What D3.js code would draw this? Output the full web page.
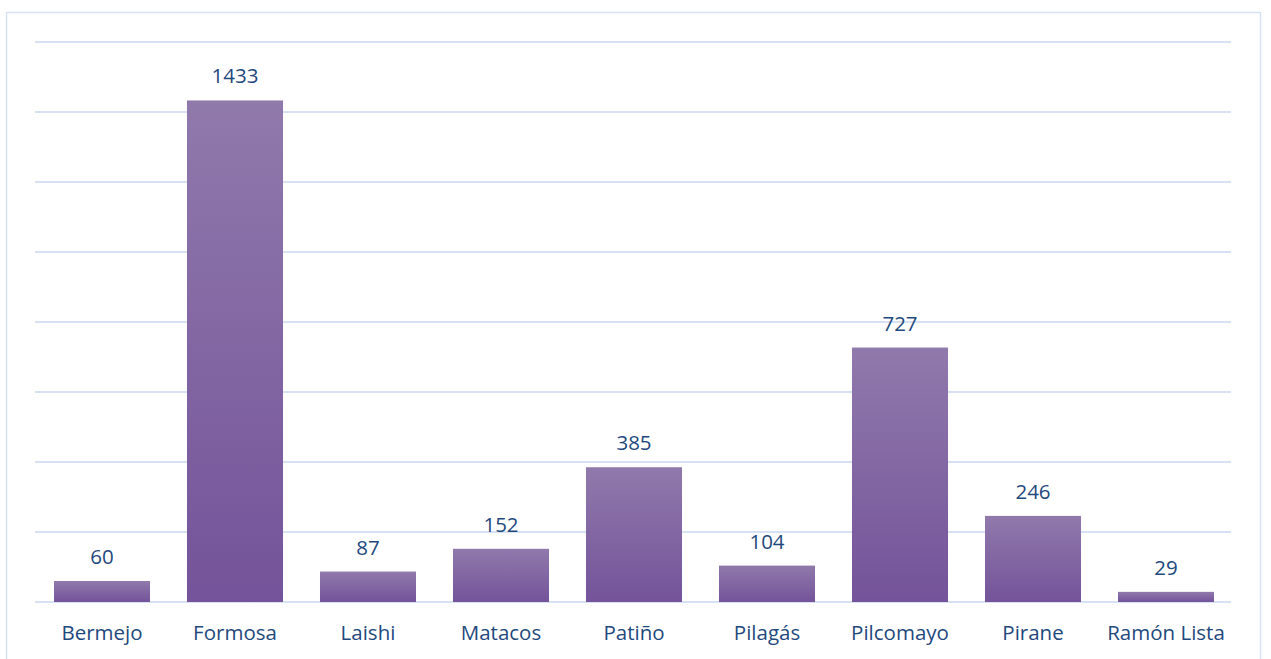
<!DOCTYPE html>
<html>
<head>
<meta charset="utf-8">
<script src="https://cdn.jsdelivr.net/npm/d3@7"></script>
<style>
  body { margin: 0; background: #fff; }
  svg { display: block; }
</style>
</head>
<body>
<div id="chart"></div>
<script>
const categories = ['Bermejo', 'Formosa', 'Laishi', 'Matacos', 'Patiño', 'Pilagás', 'Pilcomayo', 'Pirane', 'Ramón Lista'];
const values = [60, 1433, 87, 152, 385, 104, 727, 246, 29];
const gridTicks = [0, 200, 400, 600, 800, 1000, 1200, 1400, 1600];

const width = 1271;
const height = 659;
const textColor = '#1f497d';
const gridColor = '#d6e2f3';

const svg = d3.select('#chart').append('svg')
    .attr('width', width)
    .attr('height', height);

// gradient for bars
const grad = svg.append('defs').append('linearGradient')
    .attr('id', 'barGrad')
    .attr('x1', 0).attr('y1', 0)
    .attr('x2', 0).attr('y2', 1);
grad.append('stop').attr('offset', '0%').attr('stop-color', '#9079ab');
grad.append('stop').attr('offset', '100%').attr('stop-color', '#74539a');

// chart border
svg.append('rect')
    .attr('x', 6.5)
    .attr('y', 12.5)
    .attr('width', 1254)
    .attr('height', 670)
    .attr('fill', 'none')
    .attr('stroke', gridColor)
    .attr('stroke-width', 1.5);

const x = d3.scaleBand()
    .domain(categories)
    .range([35.5, 1232.5])
    .paddingInner(0.278)
    .paddingOuter(0.139);

const y = d3.scaleLinear()
    .domain([0, 1600])
    .range([602, 42]);

// gridlines
svg.append('g')
    .selectAll('line')
    .data(gridTicks)
    .join('line')
      .attr('x1', 35)
      .attr('x2', 1231)
      .attr('y1', d => y(d))
      .attr('y2', d => y(d))
      .attr('stroke', gridColor)
      .attr('stroke-width', 1.8);

// bars
svg.append('g')
    .selectAll('rect')
    .data(values)
    .join('rect')
      .attr('x', (d, i) => x(categories[i]))
      .attr('y', d => y(d))
      .attr('width', x.bandwidth())
      .attr('height', d => y(0) - y(d))
      .attr('fill', 'url(#barGrad)');

// value labels
svg.append('g')
    .selectAll('text')
    .data(values)
    .join('text')
      .text(d => d)
      .attr('x', (d, i) => x(categories[i]) + x.bandwidth() / 2)
      .attr('y', d => y(d) - 17)
      .attr('text-anchor', 'middle')
      .style('font-family', '"Open Sans", sans-serif')
      .style('font-size', '20.5px')
      .style('fill', textColor);

// category labels
svg.append('g')
    .selectAll('text')
    .data(categories)
    .join('text')
      .text(d => d)
      .attr('x', d => x(d) + x.bandwidth() / 2)
      .attr('y', 640)
      .attr('text-anchor', 'middle')
      .style('font-family', '"Open Sans", sans-serif')
      .style('font-size', '20.5px')
      .style('fill', textColor);
</script>
</body>
</html>
